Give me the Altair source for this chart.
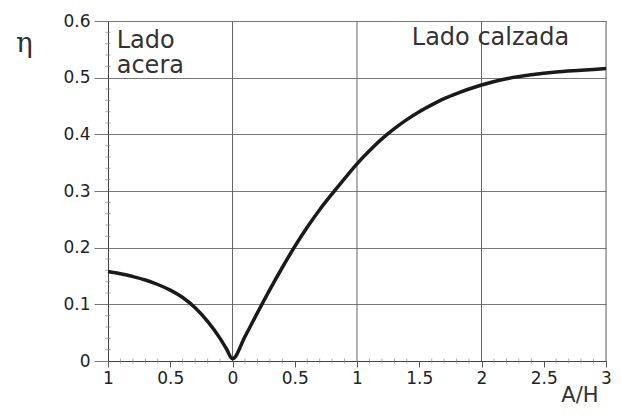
import altair as alt
import pandas as pd

# curve (x: A/H, negative side = "Lado acera")
curve_x = [-1.0, -0.9, -0.8, -0.7, -0.6, -0.5, -0.4, -0.3, -0.2, -0.1, -0.05, 0.0,
           0.1, 0.2, 0.3, 0.4, 0.5, 0.6, 0.7, 0.8, 0.9, 1.0,
           1.1, 1.2, 1.3, 1.4, 1.5, 1.6, 1.7, 1.8, 1.9, 2.0,
           2.2, 2.4, 2.6, 2.8, 3.0]
curve_y = [0.158, 0.154, 0.149, 0.143, 0.135, 0.125, 0.112, 0.094, 0.070, 0.040, 0.022, 0.004,
           0.043, 0.085, 0.126, 0.165, 0.202, 0.236, 0.267, 0.295, 0.322, 0.348,
           0.371, 0.392, 0.410, 0.426, 0.440, 0.452, 0.463, 0.472, 0.480, 0.487,
           0.498, 0.505, 0.510, 0.513, 0.516]

x_ticks = [-1, -0.5, 0, 0.5, 1, 1.5, 2, 2.5, 3]
y_ticks = [0, 0.1, 0.2, 0.3, 0.4, 0.5, 0.6]
x_grid = [0, 1, 2, 3]
x_minor = [-0.9, -0.8, -0.7, -0.6, -0.4, -0.3, -0.2, -0.1,
           0.1, 0.2, 0.3, 0.4, 0.6, 0.7, 0.8, 0.9,
           1.1, 1.2, 1.3, 1.4, 1.6, 1.7, 1.8, 1.9,
           2.1, 2.2, 2.3, 2.4, 2.6, 2.7, 2.8, 2.9]
y_minor = [0.02, 0.04, 0.06, 0.08, 0.12, 0.14, 0.16, 0.18,
           0.22, 0.24, 0.26, 0.28, 0.32, 0.34, 0.36, 0.38,
           0.42, 0.44, 0.46, 0.48, 0.52, 0.54, 0.56, 0.58]

note_text = ["Lado", "acera", "Lado calzada"]
note_x = [-0.93, -0.93, 1.44]
note_y = [0.553, 0.508, 0.558]

curve = pd.DataFrame({"x": curve_x, "y": curve_y})
grid = pd.DataFrame({"x": x_grid})
xm = pd.DataFrame({"x": x_minor})
ym = pd.DataFrame({"y": y_minor})
notes = pd.DataFrame({"t": note_text, "x": note_x, "y": note_y})

xscale = alt.Scale(domain=[-1, 3], nice=False, zero=False)
yscale = alt.Scale(domain=[0, 0.6], nice=False)

xaxis = alt.Axis(values=x_ticks, labelExpr="format(abs(datum.value), '~g')",
                 grid=False, tickSize=6, tickColor="#555", labelPadding=3,
                 labelFontSize=17, labelFont="DejaVu Sans", labelColor="#222",
                 labelFlush=False,
                 domainColor="#444", title="A/H", titleFont="DejaVu Sans",
                 titleFontSize=21, titleFontWeight="normal", titleColor="#333",
                 titleX=490, titleY=44, titleAlign="right",
                 titleBaseline="bottom")
yaxis = alt.Axis(values=y_ticks, format="~g", grid=True, gridColor="#777",
                 gridWidth=1, tickSize=14, tickColor="#777", labelPadding=4,
                 labelFontSize=17, labelFont="DejaVu Sans", labelColor="#222",
                 domainColor="#444", title="η", titleAngle=0,
                 titleFont="DejaVu Serif", titleFontSize=28,
                 titleFontWeight="normal", titleColor="#333",
                 titleX=-84, titleY=22, titleAlign="center",
                 titleBaseline="middle")

gridlines = alt.Chart(grid).mark_rule(color="#666", strokeWidth=1).encode(
    x=alt.X("x:Q", scale=xscale)
)

xminor = alt.Chart(xm).mark_tick(color="#888", orient="vertical", size=5,
                                 thickness=1).encode(
    x=alt.X("x:Q", scale=xscale),
    y=alt.datum(0, scale=yscale),
)
yminor = alt.Chart(ym).mark_tick(color="#888", orient="horizontal", size=5,
                                 thickness=1).encode(
    y=alt.Y("y:Q", scale=yscale),
    x=alt.datum(-1, scale=xscale),
)

line = alt.Chart(curve).mark_line(color="#1a1a1a", strokeWidth=3.5,
                                  interpolate="monotone").encode(
    x=alt.X("x:Q", scale=xscale, axis=xaxis),
    y=alt.Y("y:Q", scale=yscale, axis=yaxis),
)

text = alt.Chart(notes).mark_text(align="left", baseline="alphabetic",
                                  font="DejaVu Sans", fontSize=24,
                                  color="#333").encode(
    x=alt.X("x:Q", scale=xscale),
    y=alt.Y("y:Q", scale=yscale),
    text="t:N",
)

chart = alt.layer(gridlines, xminor, yminor, line, text).properties(
    width=498, height=340,
    autosize=alt.AutoSizeParams(type="none"),
    padding={"left": 100, "top": 13, "right": 7, "bottom": 44},
).configure_view(stroke=None).configure(background="white")

chart.save("out.html", embed_options={"renderer": "svg", "actions": False})
